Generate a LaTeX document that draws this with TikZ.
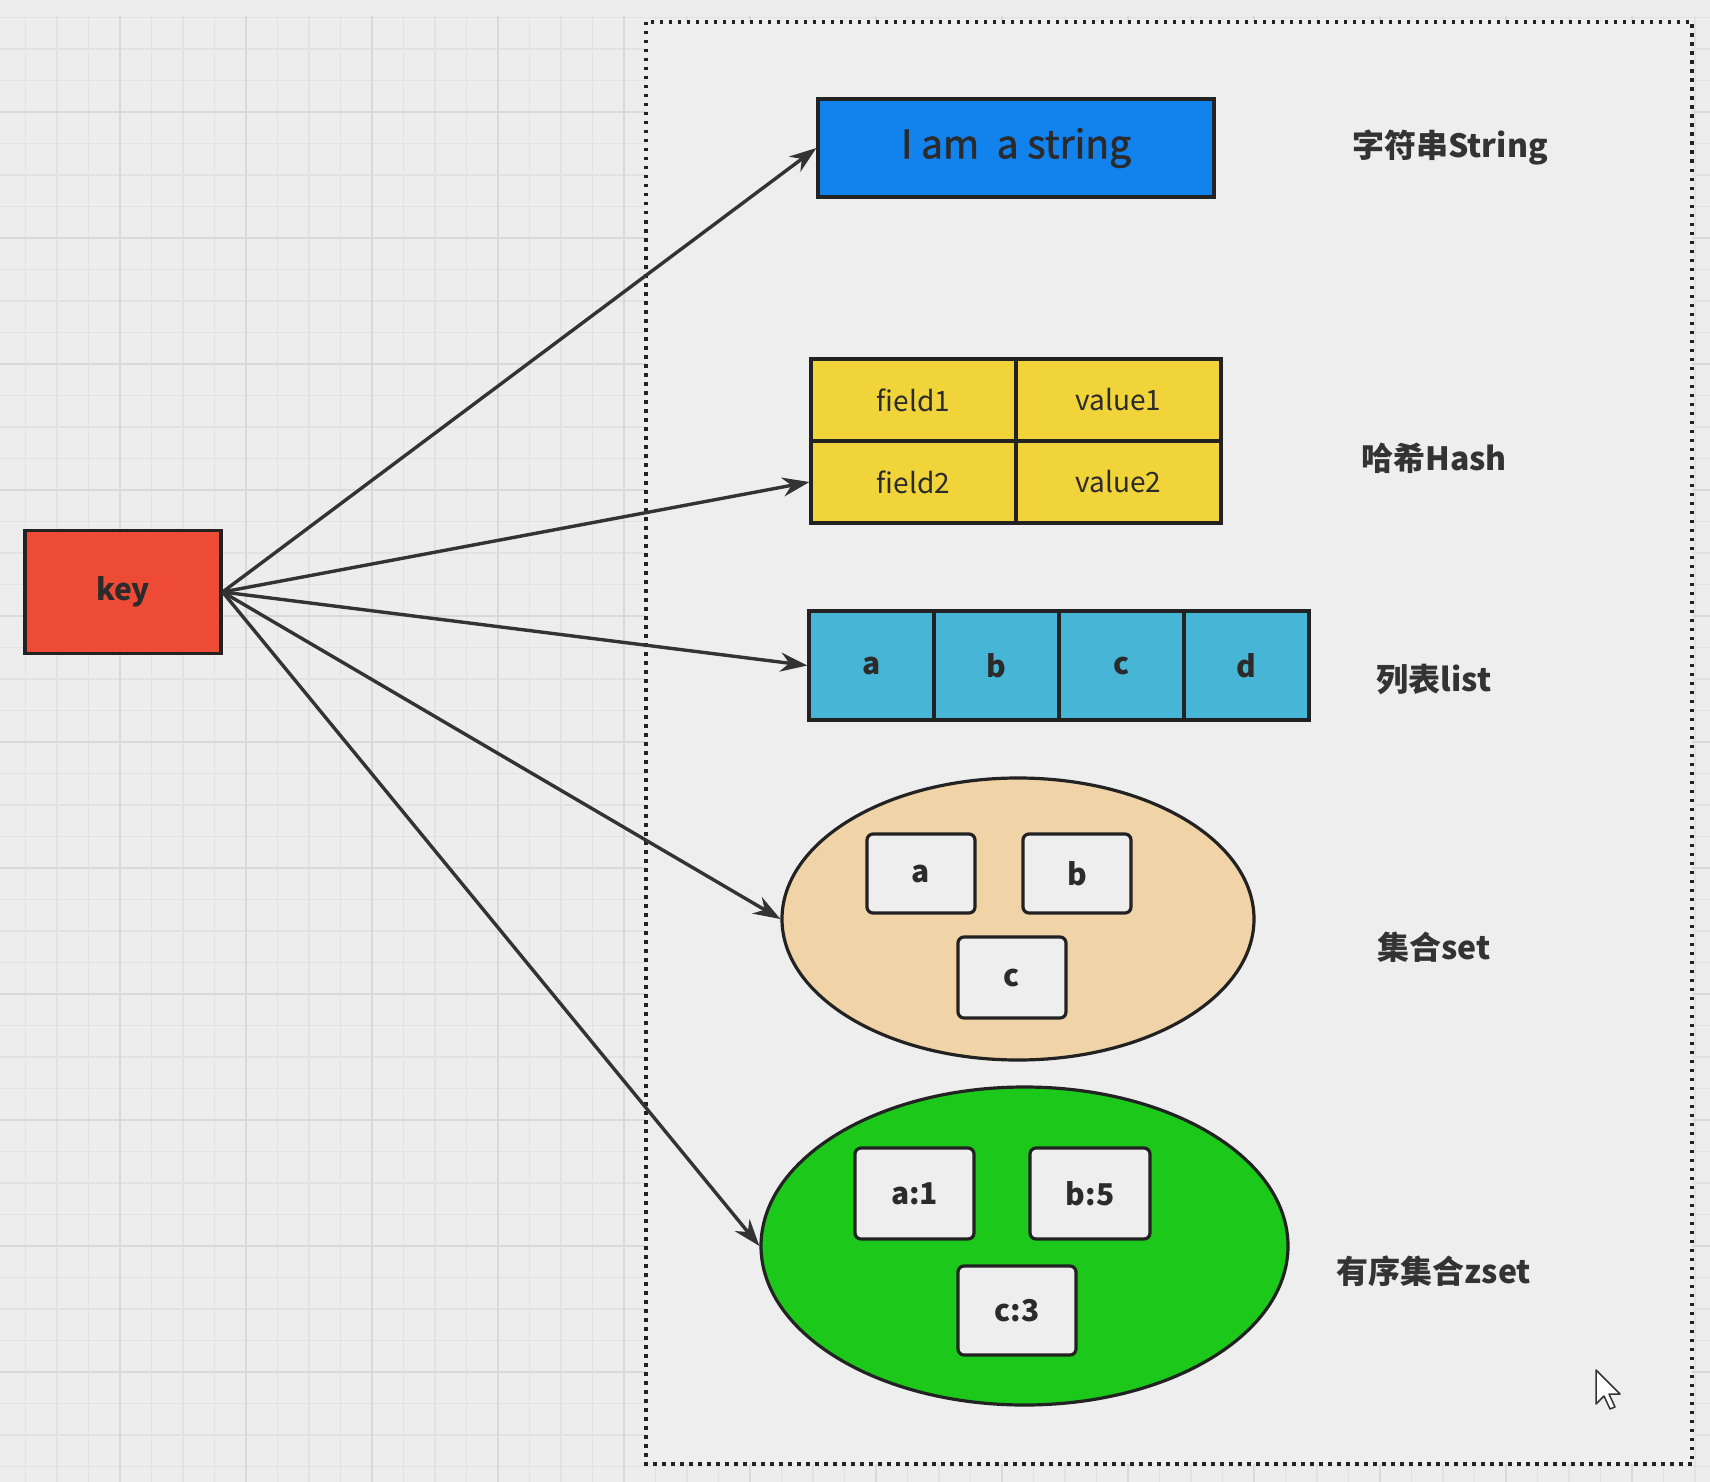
\documentclass[tikz,border=0pt]{standalone}
\usepackage{fontspec}
\setmainfont{Noto Sans CJK SC}
\usetikzlibrary{arrows.meta,shapes.geometric,positioning}

\definecolor{bggray}{HTML}{EDEDED}
\definecolor{panel}{HTML}{EEEEEE}
\definecolor{gridminor}{HTML}{E2E2E2}
\definecolor{gridmajor}{HTML}{D9D9D9}
\definecolor{linegray}{HTML}{222222}
\definecolor{arrowgray}{HTML}{333333}
\definecolor{txt}{HTML}{2B2B2B}
\definecolor{keyred}{HTML}{EE4B37}
\definecolor{strblue}{HTML}{1282EC}
\definecolor{hashyellow}{HTML}{F0D43A}
\definecolor{listcyan}{HTML}{47B5D5}
\definecolor{setpeach}{HTML}{F0D3A6}
\definecolor{zsetgreen}{HTML}{1CC91A}

\tikzset{
  boxfont/.style={font=\fontsize{30}{34}\selectfont\bfseries},
  cellfont/.style={font=\fontsize{28}{32}\selectfont},
  lbl/.style={font=\fontsize{32}{36}\selectfont\bfseries, text=arrowgray},
  elem/.style={rounded corners=6pt, fill=panel, boxfont},
}

\begin{document}
\begin{tikzpicture}[x=1pt,y=-1pt]
	\useasboundingbox (0,0) rectangle (1710,1482);

	% grid paper
	\fill[bggray] (0,0) rectangle (1710,1482);
	\foreach \i in {0,...,55}
		\draw[gridminor, line width=1.2pt] ({-6+31.5*\i},16) -- ({-6+31.5*\i},1482);
	\foreach \j in {1,...,47}
		\draw[gridminor, line width=1.2pt] (0,{-14+31.5*\j}) -- (1710,{-14+31.5*\j});
	\foreach \i in {0,...,14}
		\draw[gridmajor, line width=1.6pt] ({-6+126*\i},16) -- ({-6+126*\i},1482);
	\foreach \j in {1,...,12}
		\draw[gridmajor, line width=1.6pt] (0,{-14+126*\j}) -- (1710,{-14+126*\j});

	% dotted frame round the values
	\draw[fill=panel, draw=linegray, line width=3.5pt, dash pattern=on 3.5pt off 5.5pt]
		(646,22) rectangle (1692,1464);

	\begin{scope}[every node/.style={draw=linegray, line width=3.2pt, inner sep=0pt, text=txt}]
		\node[fill=keyred, minimum width=196pt, minimum height=123pt, boxfont] (key) at (123,592) {key};

		\node[fill=strblue, minimum width=396pt, minimum height=98pt,
			font=\fontsize{39}{42}\selectfont\addfontfeatures{FakeBold=1.5}] (str) at (1016,148) {I am\ \ a string};

		\node[fill=hashyellow, minimum width=205pt, minimum height=82pt, cellfont] (f1) at (913.5,400) {field1};
		\node[fill=hashyellow, minimum width=205pt, minimum height=82pt, cellfont] (v1) at (1118.5,400) {value1};
		\node[fill=hashyellow, minimum width=205pt, minimum height=82pt, cellfont] (f2) at (913.5,482) {field2};
		\node[fill=hashyellow, minimum width=205pt, minimum height=82pt, cellfont] (v2) at (1118.5,482) {value2};

		\node[fill=listcyan, minimum width=125pt, minimum height=109pt, boxfont] (la) at (871.5,665.5) {a};
		\node[fill=listcyan, minimum width=125pt, minimum height=109pt, boxfont] (lb) at (996.5,665.5) {b};
		\node[fill=listcyan, minimum width=125pt, minimum height=109pt, boxfont] (lc) at (1121.5,665.5) {c};
		\node[fill=listcyan, minimum width=125pt, minimum height=109pt, boxfont] (ld) at (1246.5,665.5) {d};

		\node[ellipse, fill=setpeach, minimum width=472pt, minimum height=282pt] (set) at (1018,919) {};
		\node[elem, minimum width=108pt, minimum height=79pt] (sa) at (921,873.5) {a};
		\node[elem, minimum width=108pt, minimum height=79pt] (sb) at (1077,873.5) {b};
		\node[elem, minimum width=108pt, minimum height=81pt] (sc) at (1012,977.5) {c};

		\node[ellipse, fill=zsetgreen, minimum width=527pt, minimum height=318pt] (zset) at (1024.5,1246) {};
		\node[elem, minimum width=119pt, minimum height=91pt] (za) at (914.5,1193.5) {a:1};
		\node[elem, minimum width=120pt, minimum height=91pt] (zb) at (1090,1193.5) {b:5};
		\node[elem, minimum width=118pt, minimum height=89pt] (zc) at (1017,1310.5) {c:3};
	\end{scope}

	% type names
	\node[lbl] (lstr) at (1450,148) {字符串String};
	\node[lbl] (lhash) at (1434,458) {哈希Hash};
	\node[lbl] (llist) at (1434,679) {列表list};
	\node[lbl] (lset) at (1434,947) {集合set};
	\node[lbl] (lzset) at (1434,1271) {有序集合zset};

	\begin{scope}[>={Stealth[length=27pt,width=19pt]}, line width=3.4pt, draw=arrowgray]
		\path (key.east) edge[->] (str.west);
		\path (key.east) edge[->] (f2.west);
		\path (key.east) edge[->] (la.west);
		\path (key.east) edge[->] (set.west);
		\path (key.east) edge[->] (zset.west);
	\end{scope}

	% mouse pointer
	\draw[fill=white, draw=arrowgray, line width=1.5pt, line join=round]
		(1596,1370) -- ++(0,34) -- ++(8,-8) -- ++(6,13) -- ++(5,-2) -- ++(-6,-13) -- ++(11,0) -- cycle;
\end{tikzpicture}
\end{document}
